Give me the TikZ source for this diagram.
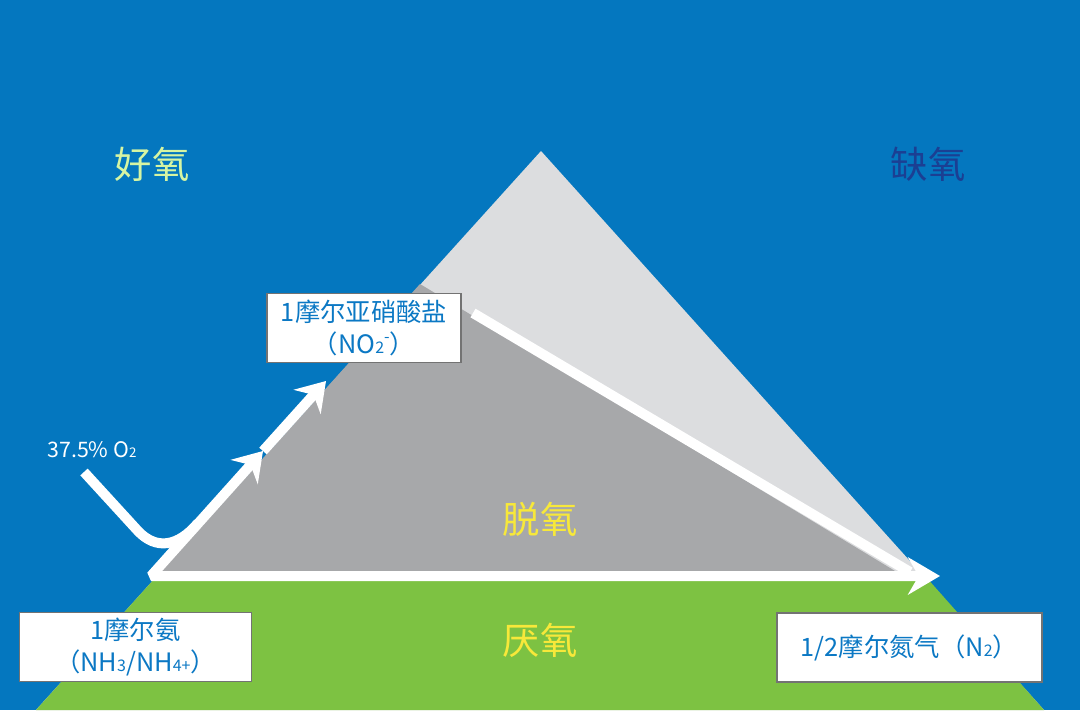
\documentclass[tikz,border=0pt]{standalone}
\usepackage{fontspec}
\setmainfont{Noto Sans CJK SC}
\usetikzlibrary{arrows.meta}

\definecolor{skyblue}{HTML}{0477BF}
\definecolor{lightgrey}{HTML}{DCDDDF}
\definecolor{midgrey}{HTML}{A7A8AA}
\definecolor{grass}{HTML}{7DC242}
\definecolor{labelblue}{HTML}{0B78C4}
\definecolor{paleyellow}{HTML}{D6F5A3}
\definecolor{navy}{HTML}{1B3F93}
\definecolor{lemon}{HTML}{F7E83A}

\newcommand{\low}[2][12]{{\fontsize{#1}{#1}\selectfont #2}}

\begin{document}
\begin{tikzpicture}[
    x=0.75pt, y=-0.75pt,
    box/.style={rectangle, draw=black!55, line width=1.2pt, fill=white, text=labelblue, align=center, inner sep=0pt, minimum height=52pt, font=\fontsize{19}{24}\selectfont},
    zone/.style={font=\fontsize{28}{28}\selectfont},
    flow/.style={draw=white, line width=7.5pt},
    head/.tip={Stealth[length=21pt, width=27pt, inset=7pt]},
    bighead/.tip={Stealth[length=24pt, width=28pt, inset=8pt]}
]

% Background and zones
\fill[skyblue] (0,0) rectangle (1080,710);
\fill[lightgrey] (541,151) -- (36,710) -- (1044,710) -- cycle;
\fill[midgrey] (420,284) -- (156,577) -- (905,577) -- cycle;
\fill[grass] (156,577) -- (36,710) -- (1044,710) -- (926,577) -- cycle;

% Flow points
\coordinate (base) at (151,576);
\coordinate (bend) at (263,451);
\coordinate (nitrite) at (326,381);
\coordinate (end) at (940,576);
\coordinate (o2) at (84,472);
\coordinate (join) at (198,523);
\coordinate (fork) at (473,313);
\coordinate (merge) at (910,572);

% White flow lines
\draw[flow] (fork) -- (merge);
\draw[flow, line join=bevel, head-bighead] (bend) -- (base) -- (end);
\draw[flow, -head] (bend) -- (nitrite);
\draw[flow] (o2) -- (138,531) .. controls (156,550) and (178,547) .. (join);

% Labels
\node[zone, text=paleyellow] (aerobic) at (152,164) {好氧};
\node[zone, text=navy] (anoxic) at (928,164) {缺氧};
\node[zone, text=lemon] (denit) at (540,519) {脱氧};
\node[zone, text=lemon] (anaerobic) at (540,640) {厌氧};
\node[text=white, font=\fontsize{16}{16}\selectfont] (oxygen) at (92,450) {37.5\% O\low[10]{2}};

% Boxes
\node[box, minimum width=174pt] (ammonia) at (135.5,647) {1摩尔氨\\（NH\low{3}/NH\low{4+}）};
\node[box, minimum width=145.5pt] (nitritebox) at (364,328) {1摩尔亚硝酸盐\\（NO\low{2}\raisebox{.45em}{\low{-}}）};
\node[box, minimum width=199pt] (nitrogen) at (909.5,647.5) {1/2摩尔氮气（N\low{2}）};

\end{tikzpicture}
\end{document}
